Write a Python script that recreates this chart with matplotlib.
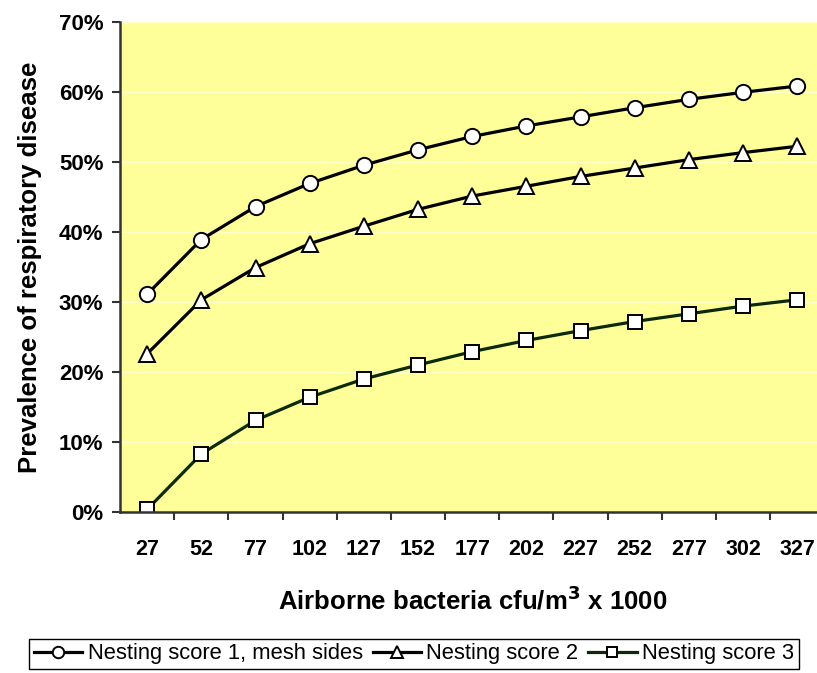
import matplotlib.pyplot as plt
from matplotlib.ticker import FuncFormatter

plt.rcParams['font.family'] = ['Liberation Sans', 'DejaVu Sans']

# airborne bacteria (cfu/m3 x 1000)
bacteria = [27, 52, 77, 102, 127, 152, 177, 202, 227, 252, 277, 302, 327]

# prevalence of respiratory disease (%)
score1_mesh = [31.1, 38.9, 43.6, 46.9, 49.5, 51.7, 53.6, 55.1, 56.4, 57.7, 58.9, 59.9, 60.8]
score2 = [22.6, 30.3, 34.9, 38.3, 40.8, 43.2, 45.1, 46.5, 47.9, 49.1, 50.3, 51.3, 52.2]
score3 = [0.4, 8.3, 13.1, 16.4, 19.0, 21.0, 22.9, 24.5, 25.9, 27.2, 28.3, 29.4, 30.3]

fig = plt.figure(figsize=(8.17, 6.73), dpi=100)
ax = fig.add_axes([0.147, 0.239, 0.862, 0.729])
ax.set_facecolor('#FFFF99')

x = range(len(bacteria))
ax.plot(x, score1_mesh, color='black', lw=2.3, marker='o', ms=11, mfc='white',
        mec='black', mew=1.4, label='Nesting score 1, mesh sides')
ax.plot(x, score2, color='black', lw=2.3, marker='^', ms=11, mfc='white',
        mec='black', mew=1.4, label='Nesting score 2')
ax.plot(x, score3, color='#0A2A0A', lw=2.3, marker='s', ms=10.5, mfc='white',
        mec='black', mew=1.4, label='Nesting score 3')

ax.set_xlim(-0.5, len(bacteria) - 0.5)
ax.set_ylim(0, 70)
ax.set_yticks(range(0, 71, 10))
ax.yaxis.set_major_formatter(FuncFormatter(lambda v, p: f'{v:.0f}%'))
ax.grid(axis='y', color='#FFFFCC', lw=1)
ax.set_axisbelow(True)

ax.set_xticks(list(x))
ax.set_xticklabels([str(b) for b in bacteria])
ax.set_xticks([i + 0.5 for i in x], minor=True)
ax.tick_params(axis='x', which='major', length=0, pad=19)
ax.tick_params(axis='x', which='minor', length=6, width=1.5, color='#333333')
ax.tick_params(axis='y', length=6, width=1.5, color='#333333', pad=6)
for lab in ax.get_xticklabels():
    lab.set_fontweight('bold')
    lab.set_fontsize(15.5)
for lab in ax.get_yticklabels():
    lab.set_fontweight('bold')
    lab.set_fontsize(16)

for s in ['top', 'right']:
    ax.spines[s].set_visible(False)
for s in ['left', 'bottom']:
    ax.spines[s].set_color('#333333')
    ax.spines[s].set_linewidth(1.8)

ax.set_xlabel('Airborne bacteria cfu/m$^\\mathbf{3}$ x 1000', fontsize=18.5,
              fontweight='bold', labelpad=19)
ax.set_ylabel('Prevalence of respiratory disease', fontsize=18.5,
              fontweight='bold', labelpad=12)

fig.legend(loc='center', bbox_to_anchor=(414 / 817, 1 - 654 / 673), ncol=3,
           fancybox=False, edgecolor='black', framealpha=1, fontsize=15.8,
           handlelength=2.2, handletextpad=0.25, columnspacing=0.45,
           borderpad=0.2, borderaxespad=0, markerscale=0.75)

fig.savefig('out.png', dpi=100)
